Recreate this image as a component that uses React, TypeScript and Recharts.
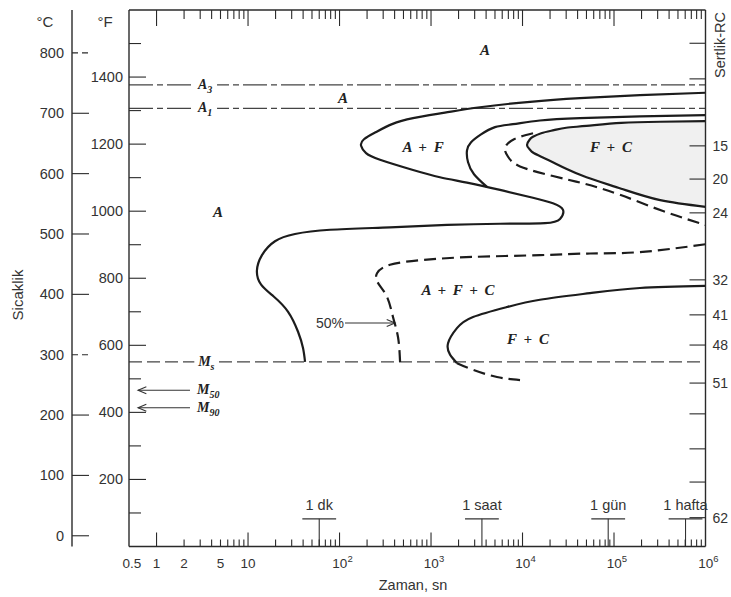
import React from 'react';
import {
  ComposedChart,
  Line,
  Area,
  XAxis,
  YAxis,
  ReferenceLine,
  ReferenceDot,
  Label,
} from 'recharts';

type Pt = { t: number; c: number };

const fToC = (f: number) => ((f - 32) * 5) / 9;

// axis ids: the °F scale sits on the frame, the °C scale outside it
const F_ID = 'a-fahrenheit';
const C_ID = 'b-celsius';
const X_ID = 'bottom';

// time axis (seconds, log) and temperature axis (°C; the frame runs 0..1600 °F)
const T_DOMAIN: [number, number] = [0.5, 1e6];
const C_DOMAIN: [number, number] = [fToC(0), fToC(1600)];
const F_DOMAIN: [number, number] = [0, 1600];

const celsiusTicks = [0, 100, 200, 300, 400, 500, 600, 700, 800];
const dashedCelsiusTicks = [300, 800];
const fahrenheitTicks = [100, 200, 300, 400, 500, 600, 700, 800, 900, 1000, 1100, 1200, 1300, 1400, 1500];
const timeLabelTicks = [0.5, 1, 2, 5, 10, 100, 1000, 10000, 100000, 1000000];
const timeLabels = ['0.5', '1', '2', '5', '10', '10^2', '10^3', '10^4', '10^5', '10^6'];
const decades = [1, 10, 100, 1000, 10000, 100000];
const mantissas = [1, 2, 3, 4, 5, 6, 7, 8, 9];
const timeTicks = [0.5, ...decades.flatMap((d) => mantissas.map((m) => m * d)), 1e6];

// Rockwell C hardness marks on the right edge, at the temperature they belong to
const rcTickTemps = [816, 757, 646, 591, 535, 424, 366, 316, 253, 202, 144, 89, 30];
const rcTickLabels = ['', '', '15', '20', '24', '32', '41', '48', '51', '', '', '', '62'];

// critical temperatures (°C)
const A3 = 747;
const A1 = 708;
const MS = 288;
const M50 = 241;
const M90 = 212;

// transformation start (outer solid curve)
const ferriteStart: Pt[] = [
  { t: 1e6, c: 734 }, { t: 192000, c: 730 }, { t: 42500, c: 725 }, { t: 12100, c: 719 },
  { t: 3430, c: 710 }, { t: 1420, c: 701 }, { t: 636, c: 692 }, { t: 375, c: 682 },
  { t: 251, c: 669 }, { t: 185, c: 657 }, { t: 172, c: 646 }, { t: 195, c: 634 },
  { t: 277, c: 623 }, { t: 636, c: 606 }, { t: 1250, c: 594 }, { t: 2470, c: 585 },
  { t: 5680, c: 573 }, { t: 13000, c: 560 }, { t: 21500, c: 551 }, { t: 27700, c: 540 },
  { t: 25700, c: 525 }, { t: 17600, c: 518 }, { t: 5680, c: 517 }, { t: 1500, c: 515 },
  { t: 356, c: 511 }, { t: 79, c: 507 }, { t: 32.6, c: 500 }, { t: 19.7, c: 488 },
  { t: 14.2, c: 465 }, { t: 12.5, c: 439 }, { t: 13.9, c: 416 }, { t: 19.2, c: 396 },
  { t: 27.4, c: 371 }, { t: 35.2, c: 338 }, { t: 39.9, c: 311 }, { t: 42, c: 288 },
];

// ferrite finish / carbide start (middle solid curve)
const carbideStart: Pt[] = [
  { t: 1e6, c: 697 }, { t: 192000, c: 695 }, { t: 42500, c: 692 }, { t: 15500, c: 688 },
  { t: 7870, c: 682 }, { t: 5000, c: 677 }, { t: 3520, c: 665 }, { t: 2740, c: 652 },
  { t: 2470, c: 638 }, { t: 2540, c: 619 }, { t: 2950, c: 599 }, { t: 4090, c: 578 },
];

// F + C field (shaded), upper and lower boundary read at the same times
const fcRegion = [
  { t: 11200, hi: 647.5, lo: 647.5 },
  { t: 12000, hi: 656.5, lo: 640 },
  { t: 13000, hi: 661, lo: 635 },
  { t: 16000, hi: 667, lo: 628 },
  { t: 22000, hi: 672, lo: 618 },
  { t: 30000, hi: 676, lo: 608 },
  { t: 50000, hi: 679, lo: 594 },
  { t: 120000, hi: 684, lo: 575 },
  { t: 320000, hi: 686, lo: 556 },
  { t: 1000000, hi: 687, lo: 545 },
];
const fcOutline: Pt[] = [
  ...[...fcRegion].reverse().filter((d) => d.hi !== d.lo).map((d) => ({ t: d.t, c: d.hi })),
  ...fcRegion.filter((d) => d.hi === d.lo).map((d) => ({ t: d.t, c: d.hi })),
  ...fcRegion.filter((d) => d.hi !== d.lo).map((d) => ({ t: d.t, c: d.lo })),
];

// dashed curve inside the upper field
const upperDashed: Pt[] = [
  { t: 13030, c: 667 }, { t: 8070, c: 657 }, { t: 6440, c: 642.5 }, { t: 6950, c: 628 },
  { t: 9390, c: 612 }, { t: 21500, c: 596 }, { t: 48200, c: 583 }, { t: 116000, c: 565 },
  { t: 343000, c: 538 }, { t: 1e6, c: 515 },
];

// 50 % dashed curve, lower field
const lowerDashed: Pt[] = [
  { t: 1e6, c: 483 }, { t: 192000, c: 470 }, { t: 54700, c: 467.7 }, { t: 15500, c: 465 },
  { t: 2880, c: 462 }, { t: 818, c: 457 }, { t: 356, c: 449 }, { t: 257, c: 435 },
  { t: 263, c: 419 }, { t: 330, c: 396 }, { t: 384, c: 362.5 }, { t: 436, c: 329 },
  { t: 459, c: 288 },
];

// lower F + C boundary (solid) and its dashed tail below Ms
const lowerSolid: Pt[] = [
  { t: 1e6, c: 414 }, { t: 192000, c: 410.5 }, { t: 54700, c: 402 }, { t: 15500, c: 391 },
  { t: 6770, c: 379 }, { t: 2880, c: 362.5 }, { t: 1920, c: 344 }, { t: 1535, c: 319 },
  { t: 1614, c: 300 }, { t: 1924, c: 286 },
];
const lowerTail: Pt[] = [
  { t: 1924, c: 286 }, { t: 2880, c: 275 }, { t: 5260, c: 263 }, { t: 9390, c: 258 },
];

const phaseLabels = [
  { text: 'A', t: 3890, c: 805 },
  { text: 'A', t: 109, c: 725 },
  { text: 'A + F', t: 818, c: 644 },
  { text: 'F + C', t: 92700, c: 644 },
  { text: 'A', t: 4.7, c: 536 },
  { text: 'A + F + C', t: 1972, c: 407 },
  { text: 'F + C', t: 11480, c: 326 },
];

const lineMarks = [
  { base: 'A', sub: '3', t: 3.39, c: A3 },
  { base: 'A', sub: '1', t: 3.39, c: A1 },
  { base: 'M', sub: 's', t: 3.5, c: MS },
];

const mArrows = [
  { sub: '50', c: M50, from: 2.32, to: 0.628, labelT: 2.77 },
  { sub: '90', c: M90, from: 2.32, to: 0.628, labelT: 2.77 },
];

const timeMarks = [
  { t: 60, label: '1 dk' },
  { t: 3600, label: '1 saat' },
  { t: 86400, label: '1 gün' },
  { t: 604800, label: '1 hafta' },
];
const markBarC = 28;
const markLabelC = 51;

const ink = '#1c1c1c';
const axisInk = '#2a2a2a';
const textInk = '#333';
const refInk = '#444';
const sans = '"Liberation Sans", Arial, sans-serif';
const serif = '"Liberation Serif", "Times New Roman", serif';

const isDecade = (v: number) => Math.abs(Math.log10(v) - Math.round(Math.log10(v))) < 1e-9;

const BottomTick = (props: any) => {
  const { x, y, payload } = props;
  const v = payload.value;
  const i = timeLabelTicks.indexOf(v);
  const len = isDecade(v) ? 14 : 7;
  const text = i >= 0 ? timeLabels[i] : '';
  const [base, exp] = text.split('^');
  return (
    <g>
      {v > T_DOMAIN[0] && v < T_DOMAIN[1] && (
        <line x1={x} x2={x} y1={y} y2={y - len} stroke={axisInk} strokeWidth={1.1} />
      )}
      {text && (
        <text x={x + (exp || v === 0.5 ? 3 : 0)} y={y + 21.5} textAnchor="middle" fontFamily={sans} fontSize={13.5} fill={textInk}>
          {base}
          {exp && <tspan dy={-6} fontSize={9.5}>{exp}</tspan>}
        </text>
      )}
    </g>
  );
};

const TopTick = (props: any) => {
  const { x, y, payload } = props;
  const v = payload.value;
  if (v <= T_DOMAIN[0] || v >= T_DOMAIN[1]) return <g />;
  const len = isDecade(v) ? 16 : 9;
  return <line x1={x} x2={x} y1={y} y2={y + len} stroke={axisInk} strokeWidth={1.1} />;
};

const FTick = (props: any) => {
  const { x, y, payload } = props;
  const v = payload.value;
  const labelled = v % 200 === 0;
  return (
    <g>
      <line x1={x} x2={x + (labelled ? 17 : 12)} y1={y} y2={y} stroke={axisInk} strokeWidth={1.1} />
      {labelled && (
        <text x={x - 6} y={y} dy={5} textAnchor="end" fontFamily={sans} fontSize={14.5} fill={textInk}>
          {v}
        </text>
      )}
    </g>
  );
};

const CTick = (props: any) => {
  const { x, y, payload } = props;
  const v = payload.value;
  return (
    <g>
      <line
        x1={x}
        x2={x + 17}
        y1={y}
        y2={y}
        stroke={axisInk}
        strokeWidth={1.1}
        strokeDasharray={dashedCelsiusTicks.includes(v) ? '6 4' : undefined}
      />
      <text x={x - 8} y={y} dy={5} textAnchor="end" fontFamily={sans} fontSize={14.5} fill={textInk}>
        {v}
      </text>
    </g>
  );
};

const RcTick = (props: any) => {
  const { x, y, index } = props;
  const label = rcTickLabels[index];
  return (
    <g>
      <line x1={x} x2={x - 16} y1={y} y2={y} stroke={axisInk} strokeWidth={1.1} />
      {label && (
        <text x={x + 7} y={y} dy={5} textAnchor="start" fontFamily={sans} fontSize={14} fill={textInk}>
          {label}
        </text>
      )}
    </g>
  );
};

const ArrowShape = (p: any) => {
  const { x1, y1, x2, y2 } = p;
  const ang = Math.atan2(y2 - y1, x2 - x1);
  const h = 9;
  const w = 0.4;
  const ax = x2 - h * Math.cos(ang - w);
  const ay = y2 - h * Math.sin(ang - w);
  const bx = x2 - h * Math.cos(ang + w);
  const by = y2 - h * Math.sin(ang + w);
  return (
    <g>
      <line x1={x1} y1={y1} x2={x2} y2={y2} stroke="#333" strokeWidth={1.1} />
      <path d={`M${ax},${ay}L${x2},${y2}L${bx},${by}`} fill="none" stroke="#333" strokeWidth={1.1} />
    </g>
  );
};

const phaseText = (text: string) => (p: any) => (
  <text
    x={p.viewBox.x}
    y={p.viewBox.y}
    dy={5}
    textAnchor="middle"
    fontFamily={serif}
    fontStyle="italic"
    fontWeight="bold"
    fontSize={15}
    wordSpacing={3}
    fill="#222"
  >
    {text}
  </text>
);

const subText = (base: string, sub: string, withBox: boolean, anchor: 'middle' | 'start') => (p: any) => {
  const { x, y } = p.viewBox;
  return (
    <g>
      {withBox && <rect x={x - 12} y={y - 8} width={24} height={17} fill="#fff" />}
      <text x={x} y={y} dy={4} textAnchor={anchor} fontFamily={serif} fontStyle="italic" fontWeight="bold" fontSize={14} fill="#222">
        {base}
        <tspan dy={4} fontSize={10}>{sub}</tspan>
      </text>
    </g>
  );
};

const plainText = (text: string, size: number) => (p: any) => (
  <text x={p.viewBox.x} y={p.viewBox.y} dy={5} textAnchor="middle" fontFamily={sans} fontSize={size} fill={textInk}>
    {text}
  </text>
);

export default function App() {
  return (
    <div style={{ position: 'absolute', left: 0, top: 0, width: 731, height: 597, background: '#fff' }}>
      <ComposedChart
        width={731}
        height={597}
        data={fcRegion}
        margin={{ top: 0, right: 0, bottom: 0, left: 0 }}
      >
        <XAxis
          xAxisId={X_ID}
          dataKey="t"
          type="number"
          scale="log"
          domain={T_DOMAIN}
          allowDataOverflow
          ticks={timeTicks}
          interval={0}
          tick={BottomTick}
          tickLine={false}
          tickSize={0}
          tickMargin={0}
          height={50.5}
          axisLine={{ stroke: axisInk, strokeWidth: 1.4 }}
        >
          <Label
            content={() => (
              <text x={413} y={590} textAnchor="middle" fontFamily={sans} fontSize={14.5} fill={textInk}>
                Zaman, sn
              </text>
            )}
          />
        </XAxis>
        <XAxis
          xAxisId="top"
          orientation="top"
          dataKey="t"
          type="number"
          scale="log"
          domain={T_DOMAIN}
          allowDataOverflow
          ticks={timeTicks}
          interval={0}
          tick={TopTick}
          tickLine={false}
          tickSize={0}
          tickMargin={0}
          height={10}
          axisLine={{ stroke: axisInk, strokeWidth: 1.4 }}
        />
        <YAxis
          yAxisId={F_ID}
          type="number"
          domain={F_DOMAIN}
          allowDataOverflow
          ticks={fahrenheitTicks}
          interval={0}
          tick={FTick}
          tickLine={false}
          tickSize={0}
          tickMargin={0}
          width={57}
          axisLine={{ stroke: axisInk, strokeWidth: 1.4 }}
        >
          <Label
            content={() => (
              <text x={105} y={27} textAnchor="middle" fontFamily={sans} fontSize={15} fill={textInk}>
                °F
              </text>
            )}
          />
        </YAxis>
        <YAxis
          yAxisId={C_ID}
          type="number"
          domain={C_DOMAIN}
          allowDataOverflow
          ticks={celsiusTicks}
          interval={0}
          tick={CTick}
          tickLine={false}
          tickSize={0}
          tickMargin={0}
          width={72}
          axisLine={{ stroke: axisInk, strokeWidth: 1.4 }}
        >
          <Label
            content={() => (
              <g>
                <text x={45} y={27} textAnchor="middle" fontFamily={sans} fontSize={15} fill={textInk}>
                  °C
                </text>
                <text
                  x={18}
                  y={295}
                  textAnchor="middle"
                  dy={5}
                  transform="rotate(-90 18 295)"
                  fontFamily={sans}
                  fontSize={15}
                  fill={textInk}
                >
                  Sicaklik
                </text>
              </g>
            )}
          />
        </YAxis>
        <YAxis
          yAxisId="rc"
          orientation="right"
          type="number"
          domain={C_DOMAIN}
          allowDataOverflow
          ticks={rcTickTemps}
          interval={0}
          tick={RcTick}
          tickLine={false}
          tickSize={0}
          tickMargin={0}
          width={25.5}
          axisLine={{ stroke: axisInk, strokeWidth: 1.4 }}
        >
          <Label
            content={() => (
              <text
                x={720}
                y={45}
                dy={5}
                textAnchor="middle"
                transform="rotate(-90 720 45)"
                fontFamily={sans}
                fontSize={14.5}
                fill={textInk}
              >
                Sertlik-RC
              </text>
            )}
          />
        </YAxis>

        <Area
          xAxisId={X_ID}
          yAxisId={C_ID}
          dataKey={(d: any) => [d.lo, d.hi]}
          type="natural"
          stroke="none"
          fill="#f0f0f0"
          fillOpacity={1}
          dot={false}
          activeDot={false}
          isAnimationActive={false}
        />

        <ReferenceLine xAxisId={X_ID} yAxisId={C_ID} y={A3} stroke={refInk} strokeWidth={1.2} strokeDasharray="24 4 6 4" />
        <ReferenceLine xAxisId={X_ID} yAxisId={C_ID} y={A1} stroke={refInk} strokeWidth={1.2} strokeDasharray="24 4 6 4" />
        <ReferenceLine xAxisId={X_ID} yAxisId={C_ID} y={MS} stroke={refInk} strokeWidth={1.2} strokeDasharray="13 5" />

        {mArrows.map((m) => (
          <ReferenceLine
            key={`arr-${m.sub}`}
            xAxisId={X_ID}
            yAxisId={C_ID}
            segment={[{ x: m.from, y: m.c }, { x: m.to, y: m.c }]}
            shape={ArrowShape}
          />
        ))}
        <ReferenceLine
          xAxisId={X_ID}
          yAxisId={C_ID}
          segment={[{ x: 114.8, y: 352.6 }, { x: 404, y: 352.6 }]}
          shape={ArrowShape}
        />

        {timeMarks.map((m) => (
          <ReferenceLine
            key={`tv-${m.label}`}
            xAxisId={X_ID}
            yAxisId={C_ID}
            segment={[{ x: m.t, y: markBarC }, { x: m.t, y: C_DOMAIN[0] }]}
            stroke="#333"
            strokeWidth={1.1}
          />
        ))}
        {timeMarks.map((m) => (
          <ReferenceLine
            key={`th-${m.label}`}
            xAxisId={X_ID}
            yAxisId={C_ID}
            segment={[{ x: m.t / 1.53, y: markBarC }, { x: m.t * 1.53, y: markBarC }]}
            stroke="#333"
            strokeWidth={1.1}
          />
        ))}

        <Line xAxisId={X_ID} yAxisId={C_ID} data={ferriteStart} dataKey="c" type="natural" stroke={ink} strokeWidth={2.2} dot={false} activeDot={false} isAnimationActive={false} />
        <Line xAxisId={X_ID} yAxisId={C_ID} data={carbideStart} dataKey="c" type="natural" stroke={ink} strokeWidth={2.2} dot={false} activeDot={false} isAnimationActive={false} />
        <Line xAxisId={X_ID} yAxisId={C_ID} data={fcOutline} dataKey="c" type="natural" stroke={ink} strokeWidth={2.2} dot={false} activeDot={false} isAnimationActive={false} />
        <Line xAxisId={X_ID} yAxisId={C_ID} data={upperDashed} dataKey="c" type="natural" stroke={ink} strokeWidth={2.2} strokeDasharray="12 6" dot={false} activeDot={false} isAnimationActive={false} />
        <Line xAxisId={X_ID} yAxisId={C_ID} data={lowerDashed} dataKey="c" type="natural" stroke={ink} strokeWidth={2.2} strokeDasharray="12 6" dot={false} activeDot={false} isAnimationActive={false} />
        <Line xAxisId={X_ID} yAxisId={C_ID} data={lowerSolid} dataKey="c" type="natural" stroke={ink} strokeWidth={2.2} dot={false} activeDot={false} isAnimationActive={false} />
        <Line xAxisId={X_ID} yAxisId={C_ID} data={lowerTail} dataKey="c" type="natural" stroke={ink} strokeWidth={2.2} strokeDasharray="12 6" dot={false} activeDot={false} isAnimationActive={false} />

        {phaseLabels.map((l, i) => (
          <ReferenceDot key={`ph-${i}`} xAxisId={X_ID} yAxisId={C_ID} x={l.t} y={l.c} r={0} fill="none" stroke="none" label={phaseText(l.text)} />
        ))}
        {lineMarks.map((l) => (
          <ReferenceDot key={`lm-${l.sub}`} xAxisId={X_ID} yAxisId={C_ID} x={l.t} y={l.c} r={0} fill="none" stroke="none" label={subText(l.base, l.sub, true, 'middle')} />
        ))}
        {mArrows.map((m) => (
          <ReferenceDot key={`ml-${m.sub}`} xAxisId={X_ID} yAxisId={C_ID} x={m.labelT} y={m.c} r={0} fill="none" stroke="none" label={subText('M', m.sub, false, 'start')} />
        ))}
        <ReferenceDot xAxisId={X_ID} yAxisId={C_ID} x={78.7} y={352.6} r={0} fill="none" stroke="none" label={plainText('50%', 14)} />
        {timeMarks.map((m) => (
          <ReferenceDot key={`tl-${m.label}`} xAxisId={X_ID} yAxisId={C_ID} x={m.t} y={markLabelC} r={0} fill="none" stroke="none" label={plainText(m.label, 14.5)} />
        ))}
      </ComposedChart>
    </div>
  );
}
